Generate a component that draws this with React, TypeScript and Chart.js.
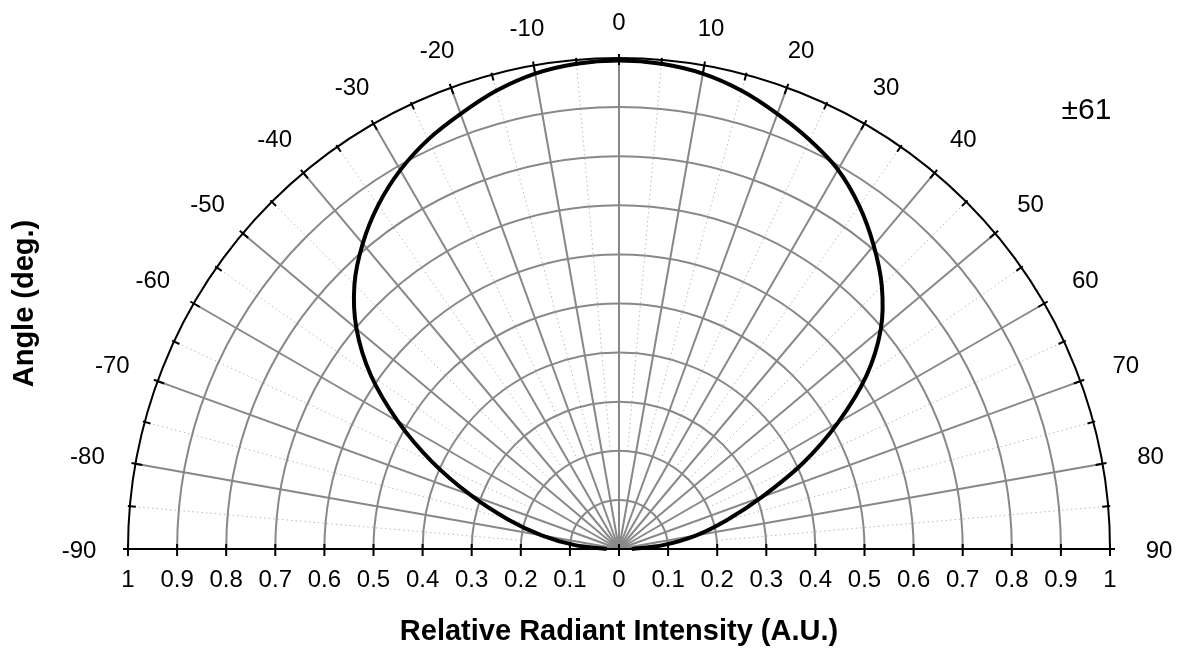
import React, { useEffect, useRef } from "react";
import { Chart, registerables } from "chart.js";

Chart.register(...registerables);

// ---- data ----
const angles = [
  -90, -85, -80, -75, -70, -65, -60, -55, -50, -45, -40, -35, -30, -25, -20, -15, -10, -5,
  0, 5, 10, 15, 20, 25, 30, 35, 40, 45, 50, 55, 60, 65, 70, 75, 80, 85, 90,
];
const intensity = [
  0.025, 0.09, 0.16, 0.235, 0.322, 0.42, 0.52, 0.617, 0.698, 0.762, 0.812, 0.855, 0.891, 0.92, 0.943, 0.966, 0.983, 0.992,
  0.995, 0.992, 0.983, 0.966, 0.943, 0.919, 0.892, 0.853, 0.807, 0.757, 0.696, 0.615, 0.515, 0.413, 0.31, 0.228, 0.16, 0.09, 0.026,
];

const angleLabels = [-90, -80, -70, -60, -50, -40, -30, -20, -10, 0, 10, 20, 30, 40, 50, 60, 70, 80, 90];
const majorSpokes = [-80, -70, -60, -50, -40, -30, -20, -10, 0, 10, 20, 30, 40, 50, 60, 70, 80];
const minorSpokes = [-85, -75, -65, -55, -45, -35, -25, -15, -5, 5, 15, 25, 35, 45, 55, 65, 75, 85];
const rings = [0.1, 0.2, 0.3, 0.4, 0.5, 0.6, 0.7, 0.8, 0.9];
const arcTicks = [-85, -80, -75, -70, -65, -60, -55, -50, -45, -40, -35, -30, -25, -20, -15, -10, -5, 0, 5, 10, 15, 20, 25, 30, 35, 40, 45, 50, 55, 60, 65, 70, 75, 80, 85];
const axisTicks = [-1, -0.9, -0.8, -0.7, -0.6, -0.5, -0.4, -0.3, -0.2, -0.1, 0, 0.1, 0.2, 0.3, 0.4, 0.5, 0.6, 0.7, 0.8, 0.9, 1];
const halfAngleText = "±61";
const xTitle = "Relative Radiant Intensity (A.U.)";
const yTitle = "Angle (deg.)";

const FAMILY = "'Liberation Sans', Arial, Helvetica, sans-serif";

const points = angles.map((a, i) => {
  const rad = (a * Math.PI) / 180;
  return { x: intensity[i] * Math.sin(rad), y: intensity[i] * Math.cos(rad) };
});

const polarPlugin = {
  id: "polarGrid",
  beforeDatasetsDraw(chart: any) {
    const { ctx, scales } = chart;
    const xs = scales.x;
    const ys = scales.y;
    const cx = xs.getPixelForValue(0);
    const cy = ys.getPixelForValue(0);
    const R = xs.getPixelForValue(1) - cx;
    const Ry = cy - ys.getPixelForValue(1);
    const pt = (a: number, r: number) => {
      const rad = (a * Math.PI) / 180;
      return [cx + r * R * Math.sin(rad), cy - r * Ry * Math.cos(rad)];
    };
    ctx.save();
    // dotted minor spokes
    ctx.strokeStyle = "#bababa";
    ctx.lineWidth = 1;
    ctx.setLineDash([1.5, 3]);
    for (const a of minorSpokes) {
      const p0 = pt(a, 0.2);
      const p1 = pt(a, 1);
      ctx.beginPath();
      ctx.moveTo(p0[0], p0[1]);
      ctx.lineTo(p1[0], p1[1]);
      ctx.stroke();
    }
    ctx.setLineDash([]);
    // rings
    ctx.strokeStyle = "#888888";
    ctx.lineWidth = 2;
    for (const r of rings) {
      ctx.beginPath();
      ctx.ellipse(cx, cy, r * R, r * Ry, 0, Math.PI, 2 * Math.PI);
      ctx.stroke();
    }
    // major spokes
    for (const a of majorSpokes) {
      const p1 = pt(a, 1);
      ctx.beginPath();
      ctx.moveTo(cx, cy);
      ctx.lineTo(p1[0], p1[1]);
      ctx.stroke();
    }
    // outer arc
    ctx.strokeStyle = "#000";
    ctx.lineWidth = 2;
    ctx.beginPath();
    ctx.ellipse(cx, cy, R, Ry, 0, Math.PI, 2 * Math.PI);
    ctx.stroke();
    // arc ticks
    for (const a of arcTicks) {
      const major = a % 10 === 0;
      const rad = (a * Math.PI) / 180;
      const o = major ? 4 : 2;
      const inn = major ? 7 : 6;
      const sx = Math.sin(rad);
      const sy = Math.cos(rad);
      ctx.beginPath();
      ctx.moveTo(cx + (R + o) * sx, cy - (Ry + o) * sy);
      ctx.lineTo(cx + (R - inn) * sx, cy - (Ry - inn) * sy);
      ctx.stroke();
    }
    // x axis line
    ctx.beginPath();
    ctx.moveTo(xs.getPixelForValue(-1) - 5, cy);
    ctx.lineTo(xs.getPixelForValue(1) + 5, cy);
    ctx.stroke();
    for (const v of axisTicks) {
      const px = xs.getPixelForValue(v);
      ctx.beginPath();
      ctx.moveTo(px, cy - 5);
      ctx.lineTo(px, cy + 7);
      ctx.stroke();
    }
    ctx.restore();
  },
  afterDraw(chart: any) {
    const { ctx, scales } = chart;
    const xs = scales.x;
    const ys = scales.y;
    const cx = xs.getPixelForValue(0);
    const cy = ys.getPixelForValue(0);
    const R = xs.getPixelForValue(1) - cx;
    ctx.save();
    ctx.fillStyle = "#000";
    ctx.textAlign = "center";
    ctx.textBaseline = "middle";
    ctx.font = `24px ${FAMILY}`;
    for (const a of angleLabels) {
      const t = String(a);
      const rad = (a * Math.PI) / 180;
      const d = R + 37 + 12 * Math.abs(Math.sin(rad));
      ctx.fillText(t, cx + d * Math.sin(rad), cy - d * Math.cos(rad) + 2);
    }
    ctx.font = `30px ${FAMILY}`;
    ctx.fillText(halfAngleText, xs.getPixelForValue(0.952), ys.getPixelForValue(0.893));
    ctx.restore();
  },
};

const fmt = (v: number) => {
  const a = Math.abs(Number(v));
  return String(Number(a.toFixed(1)));
};

export default function App() {
  const ref = useRef<HTMLCanvasElement | null>(null);
  useEffect(() => {
    document.body.style.margin = "0";
    if (!ref.current) return;
    const chart = new Chart(ref.current, {
      type: "scatter",
      data: {
        datasets: [
          {
            data: points,
            showLine: true,
            borderColor: "#000",
            borderWidth: 4,
            pointRadius: 0,
            tension: 0.3,
            fill: false,
            clip: false as any,
          },
        ],
      },
      options: {
        responsive: false,
        animation: false,
        devicePixelRatio: 1,
        layout: { padding: { top: 58, right: 75, left: 0, bottom: 0 } },
        plugins: { legend: { display: false }, tooltip: { enabled: false } },
        scales: {
          x: {
            type: "linear",
            position: "bottom",
            min: -1,
            max: 1,
            grid: { display: false, drawTicks: false },
            border: { display: false },
            ticks: {
              stepSize: 0.1,
              autoSkip: false,
              maxRotation: 0,
              padding: 17,
              color: "#000",
              font: { family: FAMILY, size: 24 },
              callback: (v: any) => fmt(v),
            },
            title: {
              display: true,
              text: xTitle,
              color: "#000",
              font: { family: FAMILY, size: 29, weight: "bold" },
              padding: { top: 0, bottom: 5 },
            },
            afterFit: (s: any) => {
              s.height = 105;
            },
          },
          y: {
            type: "linear",
            position: "left",
            min: 0,
            max: 1,
            grid: { display: false, drawTicks: false },
            border: { display: false },
            ticks: { display: false },
            title: {
              display: true,
              text: yTitle,
              color: "#000",
              font: { family: FAMILY, size: 29, weight: "bold" },
              padding: { top: 8, bottom: 0 },
            },
            afterFit: (s: any) => {
              s.width = 128;
            },
          },
        },
      } as any,
      plugins: [polarPlugin],
    });
    return () => chart.destroy();
  }, []);
  return (
    <div style={{ position: "relative", width: 1185, height: 654, background: "#fff" }}>
      <canvas ref={ref} width={1185} height={654} style={{ display: "block" }} />
    </div>
  );
}
